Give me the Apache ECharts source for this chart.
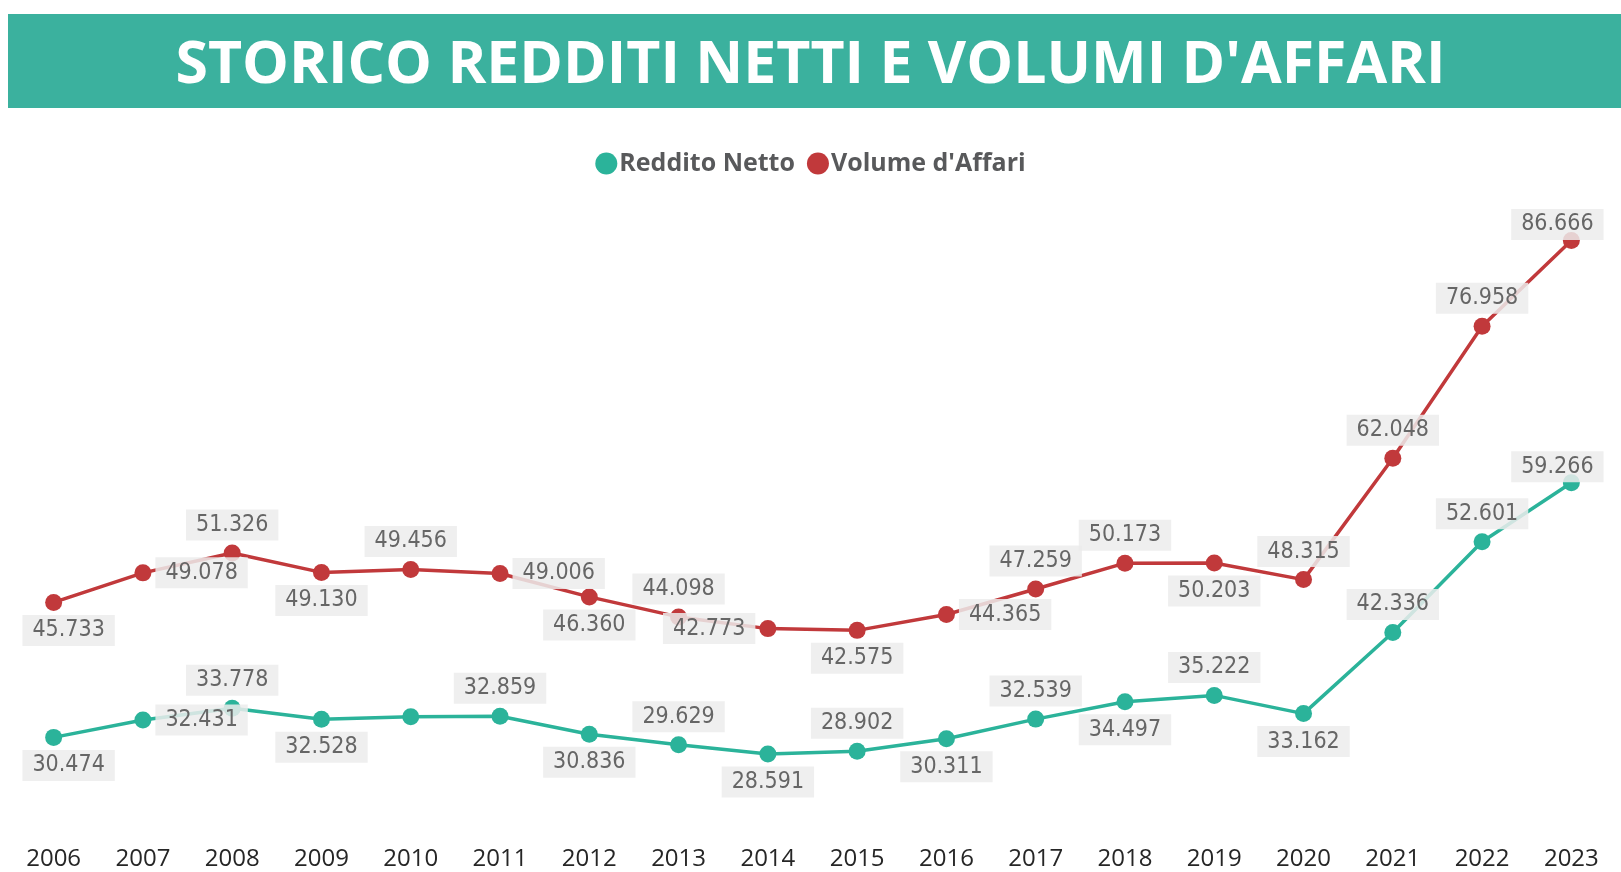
<!DOCTYPE html>
<html>
<head>
<meta charset="utf-8">
<title>Storico redditi netti e volumi d'affari</title>
<script src="https://cdn.jsdelivr.net/npm/echarts@6/dist/echarts.min.js"></script>
<style>
    html, body { margin: 0; padding: 0; background: #fff; }
    #chart { width: 1621px; height: 872px; }
</style>
</head>
<body>
<div id="chart"></div>
<script>
    // dati
    const years = ['2006', '2007', '2008', '2009', '2010', '2011', '2012', '2013', '2014',
        '2015', '2016', '2017', '2018', '2019', '2020', '2021', '2022', '2023']
    const redditoNetto = [30474, 32431, 33778, 32528, 32800, 32859, 30836, 29629, 28591,
        28902, 30311, 32539, 34497, 35222, 33162, 42336, 52601, 59266]
    const volumeAffari = [45733, 49078, 51326, 49130, 49456, 49006, 46360, 44098, 42773,
        42575, 44365, 47259, 50173, 50203, 48315, 62048, 76958, 86666]

    // posizione delle etichette (come nel report originale)
    const redditoPos = ['bottom', 'right', 'top', 'bottom', 'none', 'top', 'bottom', 'top', 'bottom',
        'top', 'bottom', 'top', 'bottom', 'top', 'bottom', 'top', 'top', 'top']
    const volumePos = ['bottom', 'right', 'top', 'bottom', 'top', 'right', 'bottom', 'top', 'left',
        'bottom', 'right', 'top', 'top', 'bottom', 'top', 'top', 'top', 'top']

    const chart = echarts.init(document.getElementById('chart'))

    //  formato italiano 45.733
    function fmt(v) {
        return String(v).replace(/\B(?=(\d{3})+(?!\d))/g, '.')
    }

    function buildData(values, pos) {
        return values.map(function(v, i) {
            const item = { value: v }
            if (pos[i] === 'none') {
                item.label = { show: false }
                return item
            }
            const label = { position: pos[i] }
            if (i === 0) label.offset = [15, 0]
            if (i === values.length - 1) label.offset = [-14, 12]
            item.label = label
            return item
        })
    }

    const labelStyle = {
        show: true,
        formatter: function(p) { return fmt(p.value) },
        fontFamily: 'DejaVu Sans Condensed',
        fontSize: 23,
        color: '#666666',
        backgroundColor: 'rgba(236,236,236,0.85)',
        padding: [4, 10],
        distance: 4
    }

    const option = {
        animation: false,
        title: {
            text: 'STORICO REDDITI NETTI E VOLUMI D\'AFFARI',
            left: 'center',
            top: 32,
            textStyle: {
                fontFamily: 'Open Sans',
                fontWeight: 'bold',
                fontSize: 59,
                color: '#ffffff'
            }
        },
        graphic: [
            {
                type: 'rect',
                z: -1,
                shape: { x: 8, y: 14, width: 1613, height: 94 },
                style: { fill: '#3bb19e' }
            }
        ],
        legend: {
            top: 146,
            left: 'center',
            icon: 'circle',
            itemWidth: 22,
            itemHeight: 22,
            itemGap: 12,
            textStyle: {
                fontFamily: 'Open Sans',
                fontWeight: 'bold',
                fontSize: 25,
                color: '#58595b',
                padding: [0, 0, 0, -3]
            },
            data: ['Reddito Netto', 'Volume d\'Affari']
        },
        grid: {
            left: 9,
            right: 5,
            top: 211,
            bottom: 42
        },
        xAxis: {
            type: 'category',
            data: years,
            axisLine: { show: false },
            axisTick: { show: false },
            axisLabel: {
                margin: 17,
                fontFamily: 'Open Sans',
                fontSize: 24,
                color: '#262626'
            }
        },
        yAxis: {
            type: 'value',
            min: 20000,
            max: 90000,
            show: false,
            splitLine: { show: false }
        },
        series: [
            {
                name: 'Reddito Netto',
                type: 'line',
                data: buildData(redditoNetto, redditoPos),
                symbol: 'circle',
                symbolSize: 17,
                lineStyle: { width: 3.5, color: '#2bb39a' },
                itemStyle: { color: '#2bb39a' },
                label: labelStyle
            },
            {
                name: 'Volume d\'Affari',
                type: 'line',
                data: buildData(volumeAffari, volumePos),
                symbol: 'circle',
                symbolSize: 17,
                lineStyle: { width: 3.5, color: '#c1393b' },
                itemStyle: { color: '#c1393b' },
                label: labelStyle
            }
        ]
    }

    window.addEventListener('resize', () => {
        chart.resize()
    })
    chart.setOption(option)
</script>
</body>
</html>
